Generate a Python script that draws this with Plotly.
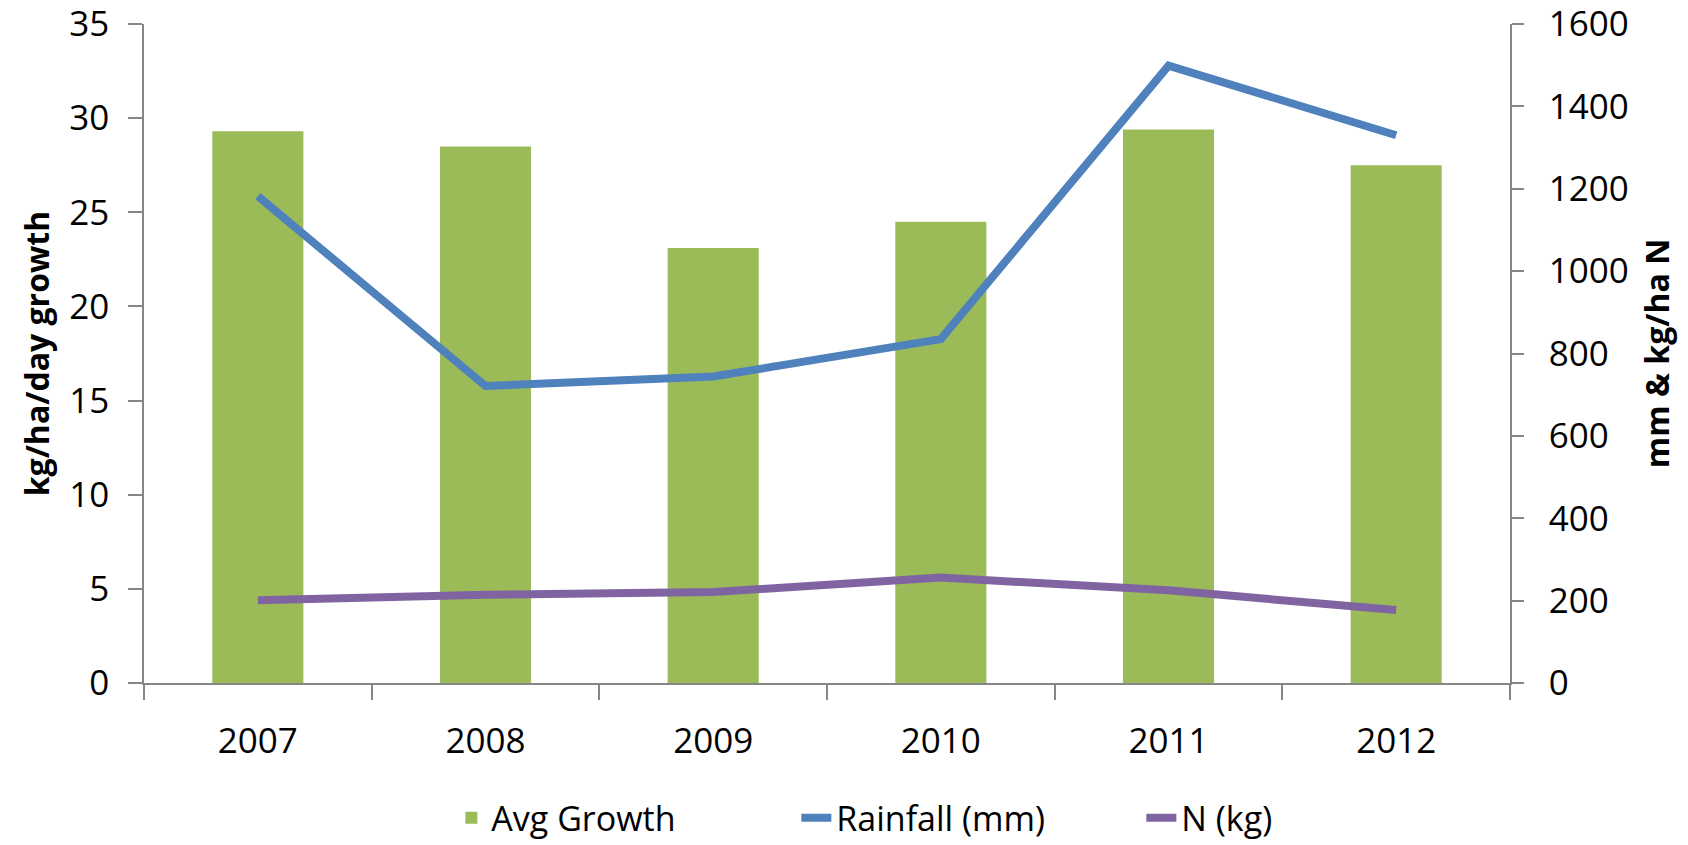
import plotly.graph_objects as go

years = ["2007", "2008", "2009", "2010", "2011", "2012"]
avg_growth = [29.3, 28.5, 23.1, 24.5, 29.4, 27.5]
rainfall_mm = [1182, 721, 744, 835, 1499, 1330]
n_kg = [201, 214, 221, 256, 225, 177]

left_ticks = [0, 5, 10, 15, 20, 25, 30, 35]
right_ticks = [0, 200, 400, 600, 800, 1000, 1200, 1400, 1600]

FONT = "Open Sans"
AXIS_COLOR = "#868686"
TICK_SIZE = 35

fig = go.Figure()
fig.add_trace(go.Bar(
    x=years, y=avg_growth, name="Avg Growth",
    marker=dict(color="#9BBB59", line=dict(width=0)),
    yaxis="y",
))
fig.add_trace(go.Scatter(
    x=years, y=rainfall_mm, name="Rainfall (mm)", mode="lines",
    line=dict(color="#4F81BD", width=8),
    yaxis="y2",
))
fig.add_trace(go.Scatter(
    x=years, y=n_kg, name="N (kg)", mode="lines",
    line=dict(color="#8064A2", width=8),
    yaxis="y2",
))

fig.update_layout(
    width=1688, height=845,
    margin=dict(l=144, r=178, t=24, b=162, autoexpand=False),
    plot_bgcolor="white", paper_bgcolor="white",
    font=dict(family=FONT, size=TICK_SIZE, color="#000000"),
    bargap=0.6,
    showlegend=True,
    legend=dict(
        orientation="h", x=0.225, xanchor="left", y=-0.205, yanchor="middle",
        font=dict(family=FONT, size=34, color="#000000"),
        itemwidth=30, traceorder="normal", entrywidth=300,
    ),
    xaxis=dict(
        type="category", automargin=False,
        showline=True, linecolor=AXIS_COLOR, linewidth=1.5,
        ticks="outside", tickson="boundaries", ticklen=15, tickcolor=AXIS_COLOR, tickwidth=1.5,
        showgrid=False, zeroline=False,
        ticklabelstandoff=26, ticklabeloverflow="allow",
        tickfont=dict(family=FONT, size=TICK_SIZE, color="#000000"),
    ),
    yaxis=dict(
        range=[0, 35], tickvals=left_ticks, ticktext=[str(v) for v in left_ticks],
        automargin=False, ticklabeloverflow="allow",
        showline=True, linecolor=AXIS_COLOR, linewidth=1.5,
        ticks="outside", ticklen=14, tickcolor=AXIS_COLOR, tickwidth=1.5,
        showgrid=False, zeroline=False,
        ticklabelstandoff=12,
        tickfont=dict(family=FONT, size=TICK_SIZE, color="#000000"),
        title=dict(text="<b>kg/ha/day growth</b>", font=dict(family=FONT, size=32, color="#000000"), standoff=10),
    ),
    yaxis2=dict(
        range=[0, 1600], tickvals=right_ticks, ticktext=[str(v) for v in right_ticks],
        overlaying="y", side="right", automargin=False, ticklabeloverflow="allow",
        showline=True, linecolor=AXIS_COLOR, linewidth=1.5,
        ticks="outside", ticklen=12, tickcolor=AXIS_COLOR, tickwidth=1.5,
        showgrid=False, zeroline=False,
        ticklabelstandoff=18,
        tickfont=dict(family=FONT, size=TICK_SIZE, color="#000000"),
        title=dict(text="<b>mm & kg/ha N</b>", font=dict(family=FONT, size=32, color="#000000"), standoff=19),
    ),
)

fig.write_html(
    "out.html",
    config={"displayModeBar": False},
    post_script="document.body.style.margin='0';document.body.style.overflow='hidden';",
)
